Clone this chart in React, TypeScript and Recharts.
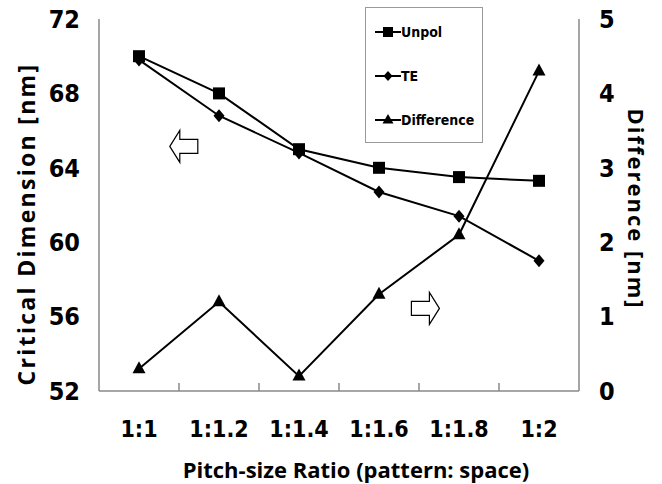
import React from 'react';
import { LineChart, Line, XAxis, YAxis, Legend, ReferenceDot, Label } from 'recharts';

const categories = ['1:1', '1:1.2', '1:1.4', '1:1.6', '1:1.8', '1:2'];
const categoryPositions = [1, 2, 3, 4, 5, 6];
const betweenTicks = [1.5, 2.5, 3.5, 4.5, 5.5];
const unpol = [70, 68, 65, 64, 63.5, 63.3];
const te = [69.8, 66.8, 64.8, 62.7, 61.4, 59.0];
const difference = [0.3, 1.2, 0.2, 1.3, 2.1, 4.3];
const leftTicks = [52, 56, 60, 64, 68, 72];
const rightTicks = [0, 1, 2, 3, 4, 5];
const seriesNames = ['Unpol', 'TE', 'Difference'];
const leftArrow = { x: 1.56, y: 65.15 };
const rightArrow = { x: 4.58, y: 1.11 };

const data = categories.map((c, i) => ({
  x: categoryPositions[i],
  name: c,
  unpol: unpol[i],
  te: te[i],
  difference: difference[i],
}));

const AXIS = '#888888';
const TICK_FONT = "'DejaVu Sans Condensed', 'DejaVu Sans', sans-serif";
const TITLE_FONT = "'Open Sans', 'DejaVu Sans', sans-serif";

const SquareDot = (p: any) =>
  p.cx == null ? <g key={p.index} /> : (
    <rect key={p.index} x={p.cx - 6} y={p.cy - 6} width={12} height={12} fill="#000" />
  );
const DiamondDot = (p: any) =>
  p.cx == null ? <g key={p.index} /> : (
    <polygon
      key={p.index}
      points={`${p.cx},${p.cy - 6.5} ${p.cx + 5.5},${p.cy} ${p.cx},${p.cy + 6.5} ${p.cx - 5.5},${p.cy}`}
      fill="#000"
    />
  );
const TriangleDot = (p: any) =>
  p.cx == null ? <g key={p.index} /> : (
    <polygon
      key={p.index}
      points={`${p.cx},${p.cy - 7.5} ${p.cx + 6.5},${p.cy + 4.5} ${p.cx - 6.5},${p.cy + 4.5}`}
      fill="#000"
    />
  );

const markerFor = (i: number, cx: number, cy: number) => {
  if (i === 0) return <rect x={cx - 5} y={cy - 5} width={10} height={10} fill="#000" />;
  if (i === 1)
    return <polygon points={`${cx},${cy - 5} ${cx + 4.5},${cy} ${cx},${cy + 5} ${cx - 4.5},${cy}`} fill="#000" />;
  return <polygon points={`${cx},${cy - 6} ${cx + 5.5},${cy + 3.5} ${cx - 5.5},${cy + 3.5}`} fill="#000" />;
};

const LegendContent = () => (
  <div
    style={{
      width: 118,
      height: 136,
      border: '1px solid #999',
      boxSizing: 'border-box',
      background: '#fff',
      position: 'relative',
    }}
  >
    {seriesNames.map((n, i) => (
      <div
        key={n}
        style={{
          position: 'absolute',
          left: 9,
          top: 15 + i * 44,
          height: 18,
          display: 'flex',
          alignItems: 'center',
        }}
      >
        <svg width={26} height={18} style={{ display: 'block' }}>
          <line x1={0} y1={9} x2={26} y2={9} stroke="#000" strokeWidth={2} />
          {markerFor(i, 13, 9)}
        </svg>
        <span
          style={{
            fontFamily: TICK_FONT,
            fontWeight: 'bold',
            fontSize: 14,
            color: '#000',
            marginLeft: 0,
          }}
        >
          {n}
        </span>
      </div>
    ))}
  </div>
);

const ArrowShape = (dir: 'left' | 'right') => (p: any) => {
  const { cx, cy } = p;
  if (cx == null) return <g />;
  const s = dir === 'left' ? 1 : -1;
  const hw = 14;
  const headLen = 10;
  const headH = 16;
  const shaftH = 7;
  const pts = [
    [-hw, 0],
    [-hw + headLen, -headH],
    [-hw + headLen, -shaftH],
    [hw, -shaftH],
    [hw, shaftH],
    [-hw + headLen, shaftH],
    [-hw + headLen, headH],
  ]
    .map(([x, y]) => `${cx + s * x},${cy + y}`)
    .join(' ');
  return <polygon points={pts} fill="#fff" stroke="#000" strokeWidth={1.2} />;
};

export default function App() {
  return (
    <div style={{ position: 'absolute', left: 0, top: 0, width: 662, height: 484, background: '#fff' }}>
      <LineChart width={662} height={484} data={data} margin={{ top: 19, right: 0, bottom: 0, left: 0 }}>
        <XAxis
          xAxisId="main"
          dataKey="x"
          type="number"
          domain={[0.5, 6.5]}
          ticks={categoryPositions}
          interval={0}
          tickFormatter={(v: number) => categories[categoryPositions.indexOf(v)]}
          height={93}
          axisLine={{ stroke: AXIS, strokeWidth: 1.5 }}
          tickLine={false}
          tickSize={6}
          tickMargin={24}
          tick={{ fill: '#000', fontSize: 23, fontWeight: 'bold', fontFamily: TICK_FONT }}
        >
          <Label
            content={() => (
              <text
                x={356}
                y={478}
                textAnchor="middle"
                fontFamily={TITLE_FONT}
                fontWeight="bold"
                fontSize={22}
                fill="#000"
              >
                Pitch-size Ratio (pattern: space)
              </text>
            )}
          />
        </XAxis>
        <XAxis
          xAxisId="minor"
          dataKey="x"
          type="number"
          domain={[0.5, 6.5]}
          ticks={betweenTicks}
          interval={0}
          mirror
          height={1}
          axisLine={false}
          tickLine={{ stroke: AXIS, strokeWidth: 1.5 }}
          tickSize={8}
          tick={() => <g />}
        />
        <YAxis
          yAxisId="left"
          domain={[52, 72]}
          ticks={leftTicks}
          interval={0}
          width={99}
          axisLine={{ stroke: AXIS, strokeWidth: 1.5 }}
          tickLine={false}
          tickSize={6}
          tickMargin={13}
          tick={{ fill: '#000', fontSize: 25, fontWeight: 'bold', fontFamily: TICK_FONT }}
        >
          <Label
            content={() => (
              <text
                x={26}
                y={224}
                transform="rotate(-90 26 224)"
                textAnchor="middle"
                dominantBaseline="central"
                fontFamily={TITLE_FONT}
                fontWeight="bold"
                fontSize={23}
                letterSpacing={2.3}
                fill="#000"
              >
                Critical Dimension [nm]
              </text>
            )}
          />
        </YAxis>
        <YAxis
          yAxisId="leftMinor"
          domain={[52, 72]}
          ticks={leftTicks}
          interval={0}
          mirror
          width={1}
          axisLine={false}
          tickLine={{ stroke: AXIS, strokeWidth: 1.5 }}
          tickSize={7}
          tick={() => <g />}
        />
        <YAxis
          yAxisId="right"
          orientation="right"
          domain={[0, 5]}
          ticks={rightTicks}
          interval={0}
          width={83}
          axisLine={{ stroke: AXIS, strokeWidth: 1.5 }}
          tickLine={false}
          tickSize={6}
          tickMargin={14}
          tick={{ fill: '#000', fontSize: 25, fontWeight: 'bold', fontFamily: TICK_FONT }}
        >
          <Label
            content={() => (
              <text
                x={637}
                y={209}
                transform="rotate(90 637 209)"
                textAnchor="middle"
                dominantBaseline="central"
                fontFamily={TITLE_FONT}
                fontWeight="bold"
                fontSize={22}
                letterSpacing={2}
                fill="#000"
              >
                Difference [nm]
              </text>
            )}
          />
        </YAxis>
        <YAxis
          yAxisId="rightMinor"
          orientation="right"
          domain={[0, 5]}
          ticks={rightTicks}
          interval={0}
          mirror
          width={1}
          axisLine={false}
          tickLine={{ stroke: AXIS, strokeWidth: 1.5 }}
          tickSize={7}
          tick={() => <g />}
        />
        <Legend
          layout="horizontal"
          align="center"
          verticalAlign="middle"
          content={<LegendContent />}
          wrapperStyle={{ position: 'absolute', left: 365, top: 7, width: 118, height: 136 }}
        />
        <Line
          xAxisId="main"
          yAxisId="left"
          dataKey="unpol"
          name={seriesNames[0]}
          stroke="#000"
          strokeWidth={2}
          dot={SquareDot}
          activeDot={false}
          isAnimationActive={false}
        />
        <Line
          xAxisId="main"
          yAxisId="left"
          dataKey="te"
          name={seriesNames[1]}
          stroke="#000"
          strokeWidth={2}
          dot={DiamondDot}
          activeDot={false}
          isAnimationActive={false}
        />
        <Line
          xAxisId="main"
          yAxisId="right"
          dataKey="difference"
          name={seriesNames[2]}
          stroke="#000"
          strokeWidth={2}
          dot={TriangleDot}
          activeDot={false}
          isAnimationActive={false}
        />
        <ReferenceDot
          xAxisId="main"
          yAxisId="left"
          x={leftArrow.x}
          y={leftArrow.y}
          r={1}
          shape={ArrowShape('left')}
        />
        <ReferenceDot
          xAxisId="main"
          yAxisId="right"
          x={rightArrow.x}
          y={rightArrow.y}
          r={1}
          shape={ArrowShape('right')}
        />
      </LineChart>
    </div>
  );
}
